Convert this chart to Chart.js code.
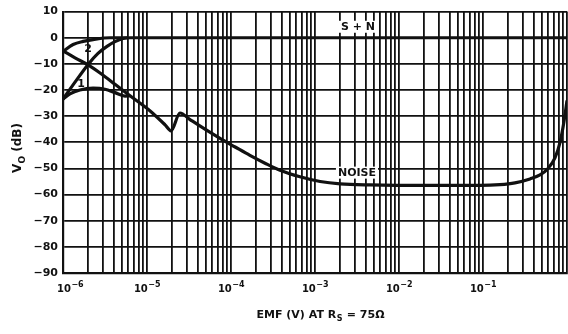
<!DOCTYPE html>
<html>
<head>
<meta charset="utf-8">
<script src="https://cdn.jsdelivr.net/npm/chart.js@4.4.1/dist/chart.umd.min.js"></script>
<style>
  html, body { margin: 0; padding: 0; background: #fff; }
  #wrap { width: 568px; height: 334px; }
</style>
</head>
<body>
<div id="wrap"><canvas id="emfChart"></canvas></div>
<script>
// V_O (dB) against source EMF, log axis

const decades = [-6, -5, -4, -3, -2, -1];          // x labels 10^n
const yTicks = [10, 0, -10, -20, -30, -40, -50, -60, -70, -80, -90];

// S + N, curve 1 (starts near -24 dB)
const sn1X = [1e-6, 1.39e-6, 1.99e-6, 2.61e-6, 3.34e-6, 4.16e-6, 5.18e-6, 6.28e-6, 1e-5, 1e-4, 1e-3, 1e-2, 1e-1, 1];
const sn1Y = [-23.5, -17, -10.2, -6, -3.3, -1.5, -0.3, 0, 0, 0, 0, 0, 0, 0];

// S + N, curve 2 (starts near -5 dB)
const sn2X = [1e-6, 1.32e-6, 1.73e-6, 2.28e-6, 3.63e-6, 5.78e-6];
const sn2Y = [-5.2, -2.6, -1.4, -0.7, 0, 0];

// noise, curve 2 branch and common tail
const noiseX = [1e-6, 1.39e-6, 1.99e-6, 2.76e-6, 4.16e-6, 6.28e-6, 1.09e-5, 1.64e-5, 1.93e-5, 2.47e-5,
                3.25e-5, 4.64e-5, 7.4e-5, 1.12e-4, 1.68e-4, 2.54e-4, 3.83e-4, 6.62e-4, 1.15e-3, 1.99e-3,
                4.52e-3, 2.34e-2, 9.2e-2, 0.159, 0.24, 0.363, 0.477, 0.594, 0.719, 0.826, 0.921, 1];
const noiseY = [-5, -7.7, -10.4, -13.5, -17.8, -22.2, -28, -33.3, -35.6, -28.8,
                -31.3, -34.5, -38.5, -41.8, -45, -48, -50.7, -53.2, -55, -55.9,
                -56.3, -56.5, -56.5, -56.2, -55.5, -54, -52.5, -50, -46, -40, -32, -24];

// noise, curve 1 branch (joins the tail)
const noise1X = [1e-6, 1.21e-6, 1.59e-6, 2.28e-6, 3.16e-6, 4.16e-6, 5.47e-6, 6.28e-6];
const noise1Y = [-23.5, -21.5, -20, -19.3, -19.7, -21, -22.3, -22.2];

const notes = [
    { text: 'S + N', x: 3.25e-3, y: 4.2, bg: true },
    { text: 'NOISE', x: 3.16e-3, y: -51.6, bg: true },
    { text: '2', x: 1.99e-6, y: -4.2, bg: false },
    { text: '1', x: 1.64e-6, y: -17.4, bg: false }
];

function pts(xs, ys) {
    return xs.map((x, i) => ({ x: x, y: ys[i] }));
}

// every 1..9 x 10^n gridline
const xGrid = [];
decades.forEach(d => {
    for (let m = 1; m <= 9; m++) xGrid.push(m * Math.pow(10, d));
});
xGrid.push(1);

const INK = '#111';
const FONT = '"DejaVu Sans", sans-serif';

const textPlugin = {
    id: 'textPlugin',
    beforeDatasetsDraw(chart) {
        const ctx = chart.ctx;
        const xs = chart.scales.x, ys = chart.scales.y;
        ctx.save();
        ctx.font = 'bold 11px ' + FONT;
        ctx.textAlign = 'center';
        ctx.textBaseline = 'middle';
        notes.forEach(n => {
            const px = xs.getPixelForValue(n.x);
            const py = ys.getPixelForValue(n.y);
            if (n.bg) {
                const w = ctx.measureText(n.text).width;
                ctx.fillStyle = '#fff';
                ctx.fillRect(px - w / 2 - 2, py - 6, w + 4, 12);
            }
            ctx.fillStyle = INK;
            ctx.fillText(n.text, px, py + 0.5);
        });
        ctx.restore();
    },
    afterDraw(chart) {
        const ctx = chart.ctx;
        const xs = chart.scales.x;
        const area = chart.chartArea;
        ctx.save();
        ctx.fillStyle = INK;
        ctx.textAlign = 'left';
        ctx.textBaseline = 'alphabetic';

        // x tick labels with superscript exponents
        decades.forEach(d => {
            const px = xs.getPixelForValue(Math.pow(10, d));
            const exp = '\u2212' + Math.abs(d);
            ctx.font = 'bold 10px ' + FONT;
            const w1 = ctx.measureText('10').width;
            ctx.font = 'bold 8px ' + FONT;
            const w2 = ctx.measureText(exp).width;
            let left = px - (w1 + w2) / 2;
            left = Math.max(left, area.left - 6);
            ctx.font = 'bold 10px ' + FONT;
            ctx.fillText('10', left, area.bottom + 19);
            ctx.font = 'bold 8px ' + FONT;
            ctx.fillText(exp, left + w1 + 0.5, area.bottom + 14);
        });

        // x title: EMF (V) AT R_S = 75 ohm
        const p1 = 'EMF (V) AT R', sub = 'S', p2 = ' = 75\u03A9';
        ctx.font = 'bold 11px ' + FONT;
        const a = ctx.measureText(p1).width;
        const c = ctx.measureText(p2).width;
        ctx.font = 'bold 8px ' + FONT;
        const b = ctx.measureText(sub).width;
        let x0 = 320 - (a + b + c) / 2;
        ctx.font = 'bold 11px ' + FONT;
        ctx.fillText(p1, x0, 318);
        ctx.font = 'bold 8px ' + FONT;
        ctx.fillText(sub, x0 + a + 0.5, 321);
        ctx.font = 'bold 11px ' + FONT;
        ctx.fillText(p2, x0 + a + b + 1, 318);

        // y title: V_O (dB), rotated
        ctx.translate(21, 148);
        ctx.rotate(-Math.PI / 2);
        ctx.font = 'bold 12px ' + FONT;
        const v = ctx.measureText('V').width;
        const rest = ' (dB)';
        const r = ctx.measureText(rest).width;
        ctx.font = 'bold 9px ' + FONT;
        const o = ctx.measureText('O').width;
        const y0 = -(v + o + r) / 2;
        ctx.font = 'bold 12px ' + FONT;
        ctx.fillText('V', y0, 0);
        ctx.font = 'bold 9px ' + FONT;
        ctx.fillText('O', y0 + v, 3.5);
        ctx.font = 'bold 12px ' + FONT;
        ctx.fillText(rest, y0 + v + o, 0);
        ctx.restore();
    }
};

const lineStyle = {
    borderColor: INK,
    borderWidth: 3.2,
    pointRadius: 0,
    fill: false,
    cubicInterpolationMode: 'monotone'
};

new Chart(document.getElementById('emfChart'), {
    type: 'line',
    data: {
        datasets: [
            Object.assign({ label: 'S + N 1', data: pts(sn1X, sn1Y) }, lineStyle),
            Object.assign({ label: 'S + N 2', data: pts(sn2X, sn2Y) }, lineStyle),
            Object.assign({ label: 'Noise', data: pts(noiseX, noiseY) }, lineStyle),
            Object.assign({ label: 'Noise 1', data: pts(noise1X, noise1Y) }, lineStyle)
        ]
    },
    options: {
        responsive: true,
        maintainAspectRatio: false,
        animation: false,
        layout: { padding: { top: 10, right: 1, left: 0, bottom: 0 } },
        plugins: {
            legend: { display: false },
            tooltip: { enabled: false }
        },
        scales: {
            x: {
                type: 'logarithmic',
                min: 1e-6,
                max: 1,
                afterBuildTicks: (scale) => {
                    scale.ticks = xGrid.map(v => ({ value: v }));
                },
                afterFit: (scale) => { scale.height = 61; },
                ticks: { display: false, autoSkip: false },
                grid: { color: INK, lineWidth: 1.8, drawTicks: false },
                border: { color: INK, width: 2.2 }
            },
            y: {
                min: -90,
                max: 10,
                afterBuildTicks: (scale) => {
                    scale.ticks = yTicks.map(v => ({ value: v }));
                },
                afterFit: (scale) => { scale.width = 63; },
                ticks: {
                    color: INK,
                    padding: 5,
                    font: { family: 'DejaVu Sans', weight: 'bold', size: 11 },
                    callback: (v) => v < 0 ? '\u2212' + Math.abs(v) : String(v)
                },
                grid: { color: INK, lineWidth: 1.8, drawTicks: false },
                border: { color: INK, width: 2.2 }
            }
        }
    },
    plugins: [textPlugin]
});
</script>
</body>
</html>
